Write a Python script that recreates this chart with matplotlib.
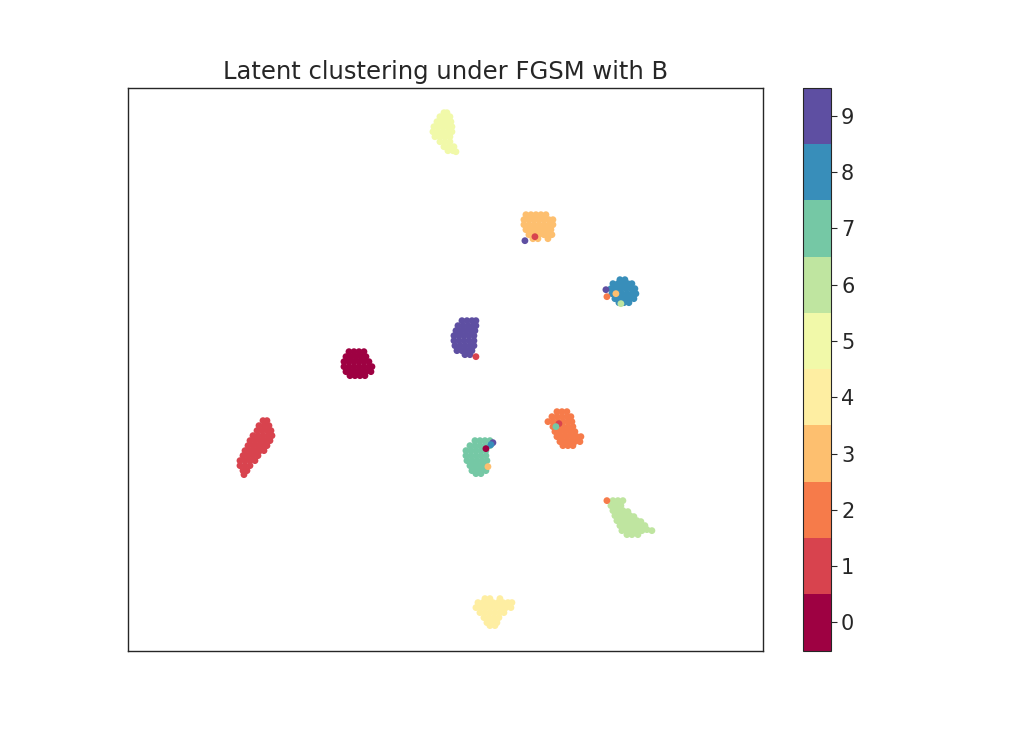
import matplotlib
matplotlib.use("Agg")
import matplotlib.pyplot as plt
import numpy as np

# Latent embedding points (approximate positions), per class label
cluster_0 = [(349,351),(354,351),(359,351),(364,351),
             (346,356),(351,356),(356,356),(361,356),(366,356),
             (344,361),(349,361),(354,361),(359,361),(364,361),(369,361),
             (344,366),(349,366),(354,366),(359,366),(364,366),(369,366),(372,366),
             (346,371),(351,371),(356,371),(361,371),(366,371),(371,371),
             (350,375),(355,375),(360,375),(365,375)]
cluster_1 = [(263,420),(267,420),
             (259,425),(264,425),(269,425),
             (257,430),(262,430),(267,430),(271,430),
             (253,435),(258,435),(263,435),(268,435),(272,435),
             (250,440),(255,440),(260,440),(265,440),(270,440),
             (248,445),(253,445),(258,445),(263,445),(267,445),
             (245,450),(250,450),(255,450),(260,450),(264,450),
             (243,455),(248,455),(253,455),(258,455),
             (240,460),(245,460),(250,460),(255,460),
             (240,465),(245,465),(250,465),
             (243,470),(247,470),(244,474)]
cluster_2 = [(557,411),(562,411),(567,411),
             (552,416),(557,416),(562,416),(567,416),(571,416),
             (548,421),(553,421),(558,421),(563,421),(568,421),(572,421),
             (553,426),(558,426),(563,426),(568,426),(573,426),
             (555,431),(560,431),(565,431),(570,431),(575,431),
             (557,436),(562,436),(567,436),(572,436),(577,436),(581,436),
             (560,441),(565,441),(570,441),(575,441),(580,441),
             (563,445),(568,445),(573,445)]
cluster_3 = [(526,214),(531,214),(536,214),(541,214),(546,214),
             (524,219),(529,219),(534,219),(539,219),(544,219),(549,219),(553,219),
             (524,224),(529,224),(534,224),(539,224),(544,224),(549,224),(553,224),
             (526,229),(531,229),(536,229),(541,229),(546,229),(551,229),
             (529,234),(534,234),(539,234),(544,234),(549,234),(552,234),
             (533,238),(538,238),(548,238)]
cluster_4 = [(485,598),(490,598),(500,598),
             (478,602),(483,602),(488,602),(493,602),(498,602),(503,602),(508,602),(512,602),
             (476,607),(481,607),(486,607),(491,607),(496,607),(501,607),(506,607),(511,607),
             (480,612),(485,612),(490,612),(495,612),(500,612),(504,612),
             (484,617),(489,617),(494,617),(499,617),
             (487,622),(492,622),(497,622),(490,625),(495,625)]
cluster_5 = [(444,112),(447,112),
             (440,116),(445,116),(450,116),
             (437,121),(442,121),(447,121),(451,121),
             (434,126),(439,126),(444,126),(449,126),(452,126),
             (433,131),(438,131),(443,131),(448,131),(452,131),
             (435,136),(440,136),(445,136),(450,136),
             (440,141),(445,141),(450,141),
             (444,146),(449,146),(454,146),
             (448,150),(453,150),(456,151)]
cluster_6 = [(613,500),(618,500),(623,500),
             (611,505),(616,505),(621,505),
             (613,510),(618,510),(623,510),(628,511),
             (615,515),(620,515),(625,515),(630,515),(634,516),
             (617,520),(622,520),(627,520),(632,520),(637,520),(641,521),
             (620,525),(625,525),(630,525),(635,525),(640,525),(645,525),
             (622,530),(627,530),(632,530),(637,530),(642,530),(647,529),(652,530),
             (627,534),(632,534),(638,534)]
cluster_7 = [(475,440),(480,440),(485,440),(490,440),
             (470,445),(475,445),(480,445),(485,445),(490,445),
             (466,450),(471,450),(476,450),(481,450),(486,450),
             (466,455),(471,455),(476,455),(481,455),(486,455),
             (467,460),(472,460),(477,460),(482,460),(487,460),
             (470,465),(475,465),(480,465),(485,465),
             (472,470),(477,470),(482,470),(486,470),
             (476,473),(481,473)]
cluster_8 = [(620,279),(625,279),
             (613,283),(618,283),(623,283),(628,283),(632,283),
             (611,288),(616,288),(621,288),(626,288),(631,288),(635,288),
             (612,293),(617,293),(622,293),(627,293),(632,293),(636,293),
             (615,298),(620,298),(625,298),(630,298),(634,298),
             (619,302),(624,302),(629,302)]
cluster_9 = [(462,320),(467,320),(472,320),(476,320),
             (458,325),(463,325),(468,325),(473,325),(476,325),
             (456,330),(461,330),(466,330),(471,330),(475,330),
             (454,335),(459,335),(464,335),(469,335),(474,335),
             (454,340),(459,340),(464,340),(469,340),(474,340),
             (455,345),(460,345),(465,345),(470,345),(474,345),
             (457,350),(462,350),(467,350),(472,350),
             (465,354),(470,354)]
# Misclassified / stray points: (x, y, label)
strays = [(525,240,9),(535,236,1),(606,289,9),(607,296,2),(616,293,3),(621,303,6),
          (476,356,1),(559,423,1),(556,426,7),(493,442,9),(491,444,8),(486,448,0),
          (488,466,3),(607,500,2)]

clusters = [cluster_0, cluster_1, cluster_2, cluster_3, cluster_4,
            cluster_5, cluster_6, cluster_7, cluster_8, cluster_9]

xs, ys, labels = [], [], []
for lab, pts in enumerate(clusters):
    for (px, py) in pts:
        xs.append(px); ys.append(py); labels.append(lab)
for (px, py, lab) in strays:
    xs.append(px); ys.append(py); labels.append(lab)

plt.rcParams['font.family'] = ['DejaVu Sans']
fig = plt.figure(figsize=(10.24, 7.31), dpi=100)
ax = fig.add_subplot(111)
cmap = plt.get_cmap('Spectral', 10)
sc = ax.scatter(xs, ys, c=labels, cmap=cmap, vmin=-0.5, vmax=9.5, s=24, linewidths=0)
ax.set_xlim(128, 763)
ax.set_ylim(650, 87)
ax.set_xticks([]); ax.set_yticks([])
for sp in ax.spines.values():
    sp.set_color('#262626'); sp.set_linewidth(1.0)
ax.set_title('Latent clustering under FGSM with B', fontsize=17.5, color='#262626')
cb = fig.colorbar(sc, ax=ax, ticks=range(10))
cb.ax.tick_params(labelsize=15, colors='#262626', length=4)
cb.outline.set_edgecolor('#262626')
fig.savefig('out.png', dpi=100)
